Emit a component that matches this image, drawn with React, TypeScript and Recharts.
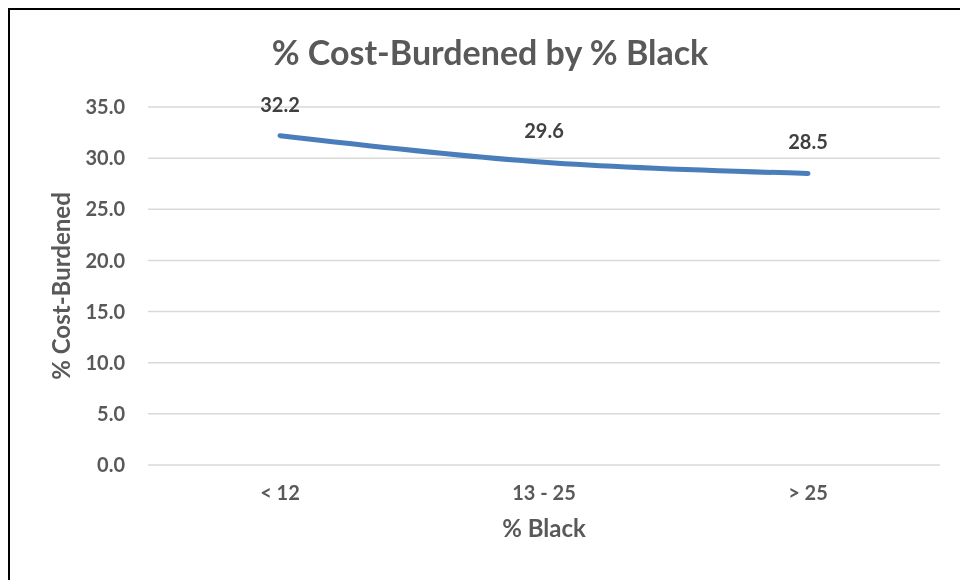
import { LineChart, Line, XAxis, YAxis, CartesianGrid, LabelList, Label } from "recharts";

const categories = ["< 12", "13 - 25", "> 25"];
const costBurdened = [32.2, 29.6, 28.5];
const yTicks = [0, 5, 10, 15, 20, 25, 30, 35];

const data = categories.map((name, i) => ({ name, value: costBurdened[i] }));

const FONT = "Lato, 'Open Sans', sans-serif";
const GRAY = "#595959";

export default function App() {
    return (
        <div
            style={{
                position: "fixed",
                left: 8,
                top: 8,
                width: 960,
                height: 580,
                borderTop: "2px solid #000",
                borderLeft: "2px solid #000",
                boxSizing: "border-box",
                fontFamily: FONT,
                overflow: "hidden",
            }}
        >
            <div
                style={{
                    position: "absolute",
                    left: 0,
                    width: 960,
                    top: 21,
                    textAlign: "center",
                    fontSize: 34,
                    fontWeight: 700,
                    color: GRAY,
                }}
            >
                % Cost-Burdened by % Black
            </div>
            <LineChart
                width={950}
                height={570}
                data={data}
                margin={{ top: 97, right: 20, bottom: 35, left: 18 }}
            >
                <CartesianGrid vertical={false} stroke="#d9d9d9" strokeWidth={1.5} />
                <XAxis
                    dataKey="name"
                    height={80}
                    padding={{ left: 132, right: 132 }}
                    axisLine={false}
                    tickLine={false}
                    tickSize={0}
                    tickMargin={21}
                    tick={{ fill: GRAY, fontSize: 20, fontWeight: 700, fontFamily: FONT }}
                >
                    <Label
                        content={({ viewBox }: any) => (
                            <text
                                x={viewBox.x + viewBox.width / 2}
                                y={viewBox.y + 72}
                                textAnchor="middle"
                                fill={GRAY}
                                fontSize={24}
                                fontWeight={700}
                                fontFamily={FONT}
                            >
                                % Black
                            </text>
                        )}
                    />
                </XAxis>
                <YAxis
                    width={120}
                    domain={[0, 35]}
                    ticks={yTicks}
                    interval={0}
                    axisLine={false}
                    tickLine={false}
                    tickSize={0}
                    tickMargin={23}
                    tickFormatter={(v: number) => v.toFixed(1)}
                    tick={{ fill: GRAY, fontSize: 20, fontWeight: 700, fontFamily: FONT }}
                >
                    <Label
                        content={({ viewBox }: any) => {
                            const cx = viewBox.x + 32;
                            const cy = viewBox.y + viewBox.height / 2;
                            return (
                                <text
                                    x={cx}
                                    y={cy}
                                    transform={`rotate(-90 ${cx} ${cy})`}
                                    textAnchor="middle"
                                    dominantBaseline="central"
                                    fill={GRAY}
                                    fontSize={24}
                                    fontWeight={700}
                                    fontFamily={FONT}
                                >
                                    % Cost-Burdened
                                </text>
                            );
                        }}
                    />
                </YAxis>
                <Line
                    type="monotone"
                    dataKey="value"
                    stroke="#4A7EBB"
                    strokeWidth={5}
                    strokeLinecap="round"
                    dot={false}
                    activeDot={false}
                    isAnimationActive={false}
                >
                    <LabelList
                        dataKey="value"
                        position="top"
                        offset={24}
                        formatter={(v: any) => Number(v).toFixed(1)}
                        fill="#404040"
                        fontSize={20}
                        fontWeight={700}
                        fontFamily={FONT}
                    />
                </Line>
            </LineChart>
        </div>
    );
}
